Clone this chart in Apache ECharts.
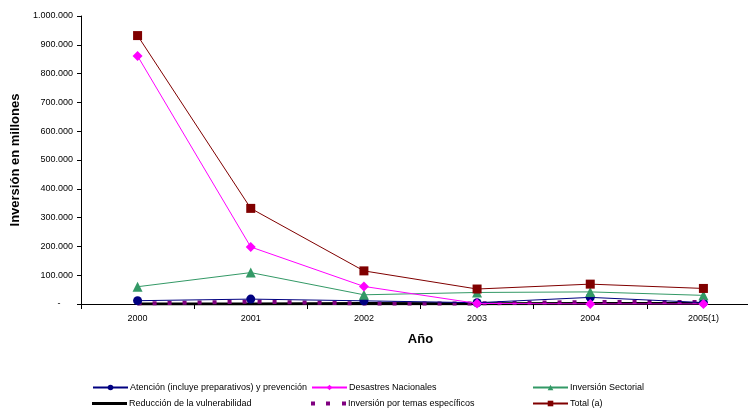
<!DOCTYPE html>
<html>
<head>
<meta charset="utf-8">
<script src="https://cdn.jsdelivr.net/npm/echarts@6/dist/echarts.min.js"></script>
<style>
  html, body { margin: 0; padding: 0; background: #fff; }
  #chart { width: 748px; height: 409px; }
</style>
</head>
<body>
<div id="chart"></div>
<script>
// Inversión anual por componente (millones)
const years = ['2000', '2001', '2002', '2003', '2004', '2005(1)'];
const atencion = [11500, 17000, 11000, 4500, 23000, 5000];
const desastres = [861000, 198000, 61000, 2000, 0, 0];
const sectorial = [60000, 109000, 32000, 40000, 42000, 30000];
const reduccion = [0, 0, 1500, 1000, 1500, 2000];
const temas = [2000, 8000, 2000, 2000, 7000, 7000];
const total = [932000, 332000, 115000, 52000, 69000, 54000];

const names = {
  atencion: 'Atención (incluye preparativos) y prevención',
  desastres: 'Desastres Nacionales',
  sectorial: 'Inversión Sectorial',
  reduccion: 'Reducción de la vulnerabilidad',
  temas: 'Inversión por temas específicos',
  total: 'Total (a)'
};

const FONT = '"Liberation Sans", Arial, sans-serif';

function fmtThousands(v) {
  if (v === 0) return '-     ';
  return String(Math.round(v)).replace(/\B(?=(\d{3})+(?!\d))/g, '.');
}

function legendAt(item, left, top, extra) {
  return Object.assign({
    data: [item],
    left: left,
    top: top,
    itemWidth: 35,
    itemHeight: 7,
    itemGap: 2,
    padding: 0,
    textStyle: { fontFamily: FONT, fontSize: 9, color: '#000', padding: [0, 0, 0, -3] }
  }, extra || {});
}

const chart = echarts.init(document.getElementById('chart'), null, { renderer: 'canvas' });

chart.setOption({
  animation: false,
  backgroundColor: '#fff',
  grid: { left: 81, right: -12, top: 16, bottom: 105, outerBoundsMode: 'none', containLabel: false },
  legend: [
    legendAt(names.atencion, 92, 383),
    legendAt(names.desastres, 311, 383),
    legendAt(names.sectorial, 532, 383),
    legendAt({ name: names.reduccion, icon: 'rect' }, 92, 399, { itemHeight: 3 }),
    legendAt({ name: names.temas, icon: 'path://M0,0h4v4h-4z M15,0h4v4h-4z M31,0h4v4h-4z' }, 311, 399, { itemHeight: 4 }),
    legendAt(names.total, 532, 399)
  ],
  xAxis: {
    type: 'category',
    data: years,
    boundaryGap: true,
    name: 'Año',
    nameLocation: 'middle',
    nameGap: 29,
    nameTextStyle: { fontFamily: FONT, fontSize: 13, fontWeight: 'bold', color: '#000' },
    axisLine: { lineStyle: { color: '#000', width: 1 } },
    axisTick: { show: true, length: 5, inside: false, lineStyle: { color: '#000' } },
    axisLabel: { fontFamily: FONT, fontSize: 9, color: '#000', margin: 10 },
    splitLine: { show: false }
  },
  yAxis: {
    type: 'value',
    min: 0,
    max: 1000000,
    interval: 100000,
    name: 'Inversión en millones',
    nameLocation: 'middle',
    nameGap: 53,
    nameTextStyle: { fontFamily: FONT, fontSize: 13, fontWeight: 'bold', color: '#000' },
    axisLine: { show: true, lineStyle: { color: '#000', width: 1 } },
    axisTick: { show: true, length: 4, lineStyle: { color: '#000' } },
    axisLabel: { fontFamily: FONT, fontSize: 9, color: '#000', margin: 8, formatter: fmtThousands },
    splitLine: { show: false }
  },
  series: [
    {
      name: names.reduccion, type: 'line', data: reduccion, z: 2,
      symbol: 'none', color: '#000',
      lineStyle: { color: '#000', width: 3 }
    },
    {
      name: names.temas, type: 'line', data: temas, z: 3,
      symbol: 'none', color: '#800080',
      lineStyle: { color: '#800080', width: 4, type: [4, 11], cap: 'butt' }
    },
    {
      name: names.atencion, type: 'line', data: atencion, z: 4,
      symbol: 'circle', symbolSize: 9, color: '#000080',
      itemStyle: { color: '#000080' },
      lineStyle: { color: '#000080', width: 1 }
    },
    {
      name: names.sectorial, type: 'line', data: sectorial, z: 5,
      symbol: 'triangle', symbolSize: 10, color: '#339966',
      itemStyle: { color: '#339966' },
      lineStyle: { color: '#339966', width: 1 }
    },
    {
      name: names.desastres, type: 'line', data: desastres, z: 6,
      symbol: 'diamond', symbolSize: 10, color: '#FF00FF',
      itemStyle: { color: '#FF00FF' },
      lineStyle: { color: '#FF00FF', width: 1 }
    },
    {
      name: names.total, type: 'line', data: total, z: 7,
      symbol: 'rect', symbolSize: 9, color: '#800000',
      itemStyle: { color: '#800000' },
      lineStyle: { color: '#800000', width: 1 }
    }
  ]
});
</script>
</body>
</html>
